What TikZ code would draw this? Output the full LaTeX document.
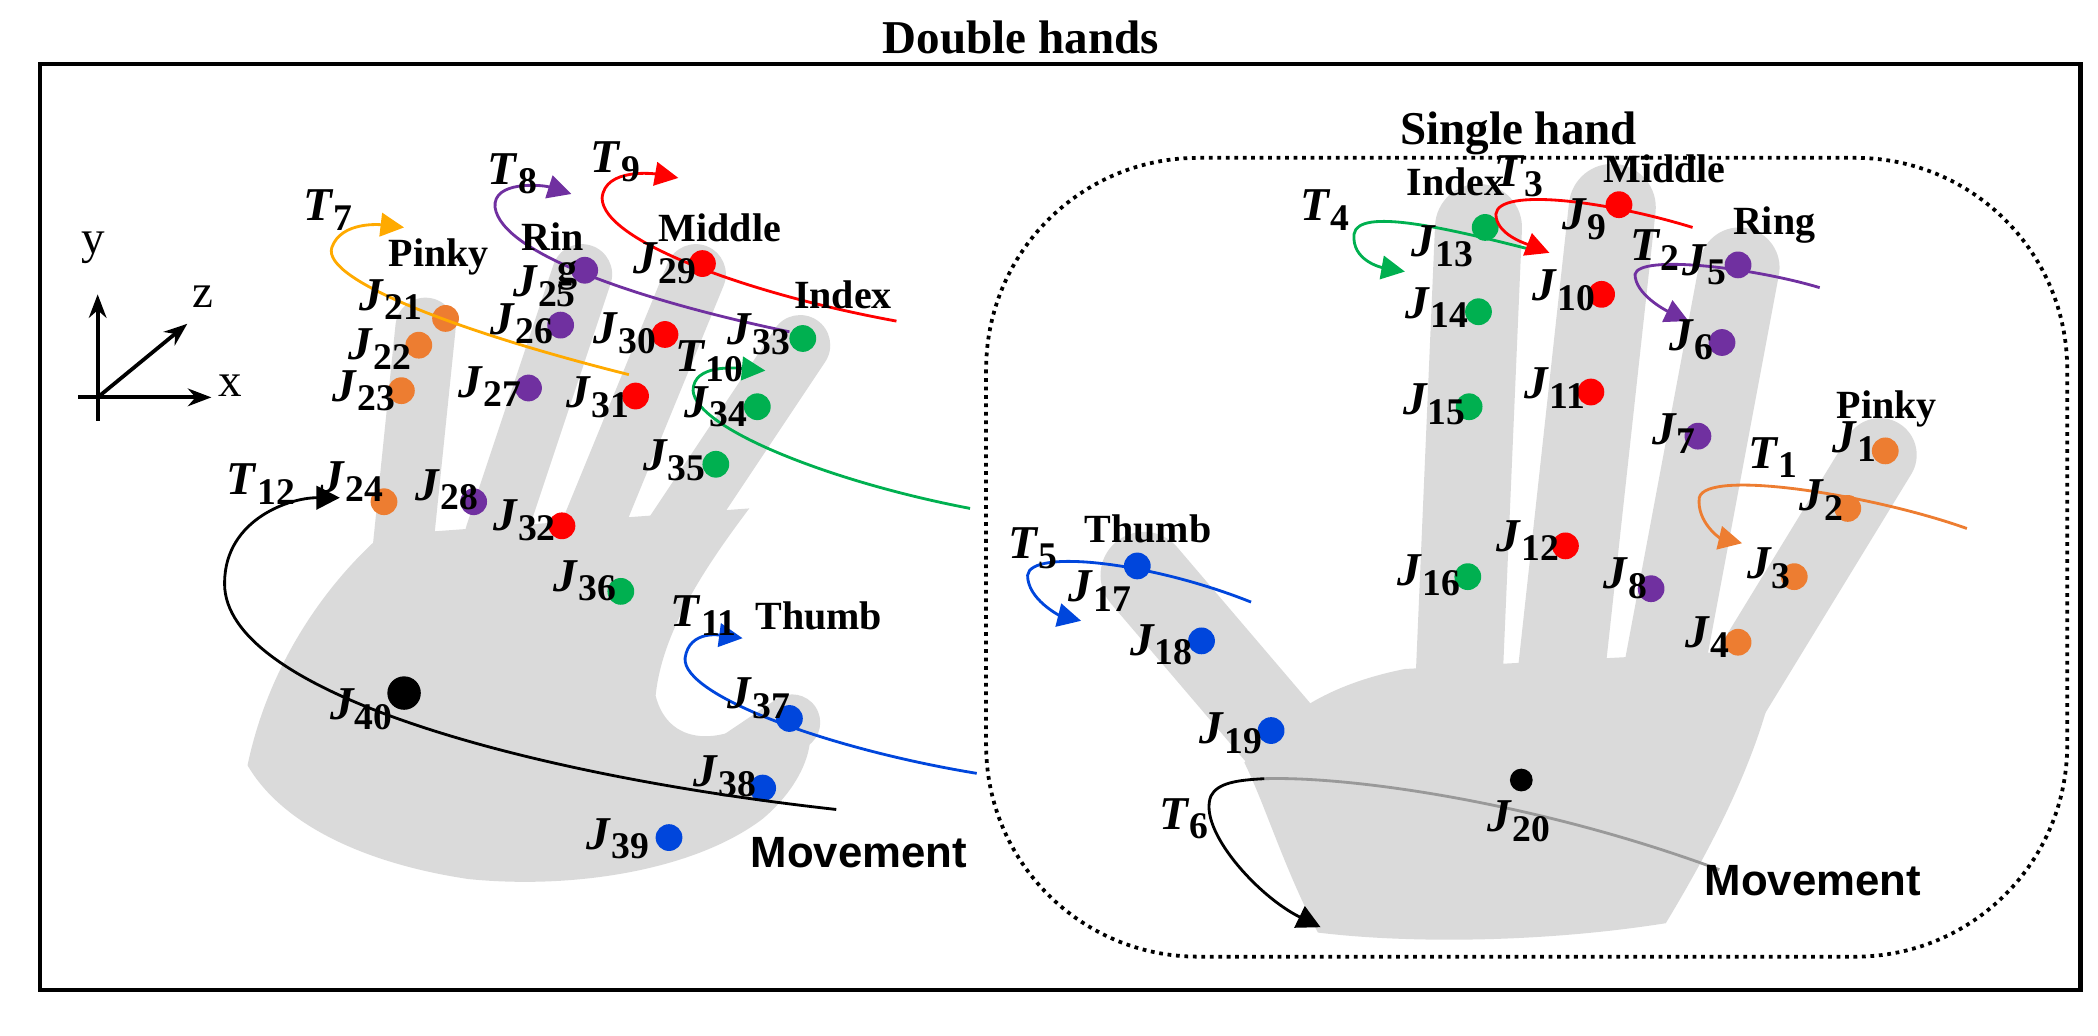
\documentclass[tikz,border=0pt]{standalone}
\usepackage{fontspec}
\setmainfont{Liberation Serif}
\newfontfamily\sansf{Liberation Sans}
\usetikzlibrary{arrows.meta}
\definecolor{hg}{RGB}{218,218,218}
\definecolor{jor}{RGB}{237,125,49}
\definecolor{jpu}{RGB}{112,48,160}
\definecolor{jre}{RGB}{255,0,0}
\definecolor{jgr}{RGB}{0,176,80}
\definecolor{jbl}{RGB}{0,70,220}
\definecolor{jye}{RGB}{255,170,0}
\newcommand{\JL}[1]{\textbf{\textit{J}}\raisebox{-0.45ex}{\bfseries\footnotesize #1}}
\newcommand{\TL}[1]{\textbf{\textit{T}}\raisebox{-0.45ex}{\bfseries\footnotesize #1}}
\begin{document}
\begin{tikzpicture}[x=0.01cm,y=-0.01cm,
 jt/.style={circle,inner sep=0pt,minimum size=0.2cm,fill=#1},
 lab/.style={font=\fontsize{8.5}{10}\selectfont\bfseries,inner sep=0pt},
 ttl/.style={font=\fontsize{10}{12}\selectfont\bfseries,inner sep=0pt},
 jl/.style={font=\fontsize{10}{12}\selectfont,inner sep=0pt},
 finger/.style={hg,line cap=round,line width=#1},
 rot/.style={#1,line width=0.6pt,-{Triangle[length=5pt,width=5pt]}},
 mv/.style={font=\sansf\fontsize{9.3}{11}\selectfont\bfseries,inner sep=0pt}]
\useasboundingbox (0,0) rectangle (1568,774);
\draw[line width=0.9pt] (30,48) rectangle (1555,740);
\node[ttl] (title) at (763,28) {Double hands};
\draw[densely dotted,line width=0.8pt,rounded corners=45] (737,118) rectangle (1545,715);
\node[ttl] (single) at (1135,100) {Single hand};
% axes
\coordinate (o) at (73,297);
\draw[line width=0.8pt,-{Stealth[length=5pt]}] (o) -- (73,220) coordinate (ya);
\draw[line width=0.8pt,-{Stealth[length=5pt]}] (o) -- (158,297) coordinate (xa);
\draw[line width=0.8pt,-{Stealth[length=5pt]}] (o) -- (140,242) coordinate (za);
\draw[line width=0.8pt] (o) -- (73,315) (o) -- (58,297);
\node[jl] (yl) at (70,185) {y};
\node[jl] (xl) at (172,288) {x};
\node[jl] (zl) at (152,222) {z};
% left hand
\fill[hg] (185,572) .. controls (200,500) and (240,440) .. (285,400) -- (560,380) .. controls (530,420) and (495,470) .. (490,520) .. controls (500,560) and (545,560) .. (588,522) .. controls (618,535) and (608,580) .. (570,612) .. controls (520,650) and (430,665) .. (350,657) .. controls (270,645) and (210,615) .. cycle;
\draw[finger=0.45cm] (300,420) -- (318,245);
\draw[finger=0.45cm] (370,400) -- (435,205);
\draw[finger=0.45cm] (440,400) -- (520,205);
\draw[finger=0.45cm] (490,420) -- (598,258);
\draw[finger=0.42cm] (540,575) -- (592,540);
% right hand
\fill[hg] (930,570) .. controls (960,530) and (1000,510) .. (1050,500) -- (1330,485) .. controls (1320,560) and (1275,640) .. (1245,690) .. controls (1150,705) and (1050,705) .. (985,697) .. controls (960,650) and (945,600) .. cycle;
\draw[finger=0.65cm] (1000,600) -- (855,430);
\draw[finger=0.65cm] (1090,520) -- (1105,170);
\draw[finger=0.65cm] (1165,520) -- (1205,155);
\draw[finger=0.6cm] (1240,520) -- (1300,200);
\draw[finger=0.55cm] (1295,520) -- (1405,340);
% left joints
\node[jt=jor] (J21) at (333,238) {};
\node[jt=jor] (J22) at (313,258) {};
\node[jt=jor] (J23) at (300,292) {};
\node[jt=jor] (J24) at (287,375) {};
\node[jt=jpu] (J25) at (437,202) {};
\node[jt=jpu] (J26) at (419,243) {};
\node[jt=jpu] (J27) at (395,290) {};
\node[jt=jpu] (J28) at (354,375) {};
\node[jt=jre] (J29) at (525,197) {};
\node[jt=jre] (J30) at (497,250) {};
\node[jt=jre] (J31) at (475,296) {};
\node[jt=jre] (J32) at (420,393) {};
\node[jt=jgr] (J33) at (600,253) {};
\node[jt=jgr] (J34) at (566,304) {};
\node[jt=jgr] (J35) at (535,347) {};
\node[jt=jgr] (J36) at (464,442) {};
\node[jt=jbl] (J37) at (590,537) {};
\node[jt=jbl] (J38) at (570,589) {};
\node[jt=jbl] (J39) at (500,626) {};
\node[jt=black,minimum size=0.25cm] (J40) at (302,518) {};
% right joints
\node[jt=jgr] (J13) at (1110,170) {};
\node[jt=jgr] (J14) at (1105,233) {};
\node[jt=jgr] (J15) at (1098,304) {};
\node[jt=jgr] (J16) at (1097,431) {};
\node[jt=jre] (J9) at (1210,153) {};
\node[jt=jre] (J10) at (1197,220) {};
\node[jt=jre] (J11) at (1189,293) {};
\node[jt=jre] (J12) at (1170,408) {};
\node[jt=jpu] (J5) at (1299,198) {};
\node[jt=jpu] (J6) at (1287,256) {};
\node[jt=jpu] (J7) at (1269,326) {};
\node[jt=jpu] (J8) at (1234,440) {};
\node[jt=jor] (J1) at (1409,337) {};
\node[jt=jor] (J2) at (1381,380) {};
\node[jt=jor] (J3) at (1341,431) {};
\node[jt=jor] (J4) at (1299,480) {};
\node[jt=jbl] (J17) at (850,423) {};
\node[jt=jbl] (J18) at (898,479) {};
\node[jt=jbl] (J19) at (950,546) {};
\node[jt=black,minimum size=0.17cm] (J20) at (1137,583) {};
% rotation arrows left
\draw[rot=jye] (470,280) .. controls (350,250) and (240,210) .. (248,185) .. controls (255,165) and (285,168) .. (302,170);
\draw[rot=jpu] (590,248) .. controls (480,225) and (375,190) .. (370,155) .. controls (368,135) and (405,138) .. (427,145);
\draw[rot=jre] (670,240) .. controls (560,220) and (450,180) .. (450,148) .. controls (452,125) and (490,130) .. (507,133);
\draw[rot=jgr] (725,380) .. controls (620,360) and (520,320) .. (518,292) .. controls (518,272) and (550,275) .. (572,277);
\draw[rot=jbl] (730,578) .. controls (620,560) and (510,520) .. (512,492) .. controls (515,470) and (540,475) .. (555,477);
\draw[rot=black] (625,605) .. controls (400,580) and (175,520) .. (168,440) .. controls (165,390) and (215,372) .. (254,372);
% rotation arrows right
\draw[rot=jgr] (1150,188) .. controls (1080,170) and (1015,155) .. (1012,175) .. controls (1010,195) and (1033,200) .. (1050,203);
\draw[rot=jre] (1265,170) .. controls (1200,150) and (1120,140) .. (1118,160) .. controls (1118,175) and (1140,182) .. (1158,189);
\draw[rot=jpu] (1360,215) .. controls (1310,200) and (1225,190) .. (1222,205) .. controls (1222,220) and (1245,232) .. (1262,240);
\draw[rot=jor] (1470,395) .. controls (1400,370) and (1275,350) .. (1270,372) .. controls (1268,390) and (1285,402) .. (1302,406);
\draw[rot=jbl] (935,450) .. controls (860,420) and (770,410) .. (768,430) .. controls (768,448) and (792,460) .. (808,464);
\draw[black!40,line width=0.6pt] (1285,650) .. controls (1150,600) and (1010,580) .. (945,582);
\draw[rot=black] (945,582) .. controls (925,583) and (910,585) .. (905,595) .. controls (895,620) and (940,670) .. (987,693);
% T labels
\node[jl] (T7) at (245,157) {\TL{7}};
\node[jl] (T8) at (383,130) {\TL{8}};
\node[jl] (T9) at (460,121) {\TL{9}};
\node[jl] (T10) at (530,270) {\TL{10}};
\node[jl] (T11) at (526,460) {\TL{11}};
\node[jl] (T12) at (195,362) {\TL{12}};
\node[jl] (T4) at (990,157) {\TL{4}};
\node[jl] (T3) at (1135,132) {\TL{3}};
\node[jl] (T2) at (1237,187) {\TL{2}};
\node[jl] (T1) at (1325,342) {\TL{1}};
\node[jl] (T5) at (772,410) {\TL{5}};
\node[jl] (T6) at (885,612) {\TL{6}};
% J labels left
\node[jl] (L21) at (292,224) {\JL{21}};
\node[jl] (L22) at (284,261) {\JL{22}};
\node[jl] (L23) at (272,292) {\JL{23}};
\node[jl] (L24) at (263,360) {\JL{24}};
\node[jl] (L25) at (407,214) {\JL{25}};
\node[jl] (L26) at (390,242) {\JL{26}};
\node[jl] (L27) at (366,289) {\JL{27}};
\node[jl] (L28) at (334,366) {\JL{28}};
\node[jl] (L29) at (497,197) {\JL{29}};
\node[jl] (L30) at (467,249) {\JL{30}};
\node[jl] (L31) at (447,297) {\JL{31}};
\node[jl] (L32) at (392,389) {\JL{32}};
\node[jl] (L33) at (567,250) {\JL{33}};
\node[jl] (L34) at (535,304) {\JL{34}};
\node[jl] (L35) at (504,344) {\JL{35}};
\node[jl] (L36) at (437,434) {\JL{36}};
\node[jl] (L37) at (567,522) {\JL{37}};
\node[jl] (L38) at (542,580) {\JL{38}};
\node[jl] (L39) at (462,627) {\JL{39}};
\node[jl] (L40) at (270,530) {\JL{40}};
% J labels right
\node[jl] (L13) at (1078,184) {\JL{13}};
\node[jl] (L14) at (1074,230) {\JL{14}};
\node[jl] (L15) at (1072,302) {\JL{15}};
\node[jl] (L16) at (1068,430) {\JL{16}};
\node[jl] (L9) at (1184,164) {\JL{9}};
\node[jl] (L10) at (1169,217) {\JL{10}};
\node[jl] (L11) at (1162,290) {\JL{11}};
\node[jl] (L12) at (1142,404) {\JL{12}};
\node[jl] (L5) at (1274,198) {\JL{5}};
\node[jl] (L6) at (1264,254) {\JL{6}};
\node[jl] (L7) at (1251,324) {\JL{7}};
\node[jl] (L8) at (1215,432) {\JL{8}};
\node[jl] (L1) at (1386,330) {\JL{1}};
\node[jl] (L2) at (1361,374) {\JL{2}};
\node[jl] (L3) at (1322,425) {\JL{3}};
\node[jl] (L4) at (1276,476) {\JL{4}};
\node[jl] (L17) at (822,442) {\JL{17}};
\node[jl] (L18) at (868,482) {\JL{18}};
\node[jl] (L19) at (920,548) {\JL{19}};
\node[jl] (L20) at (1135,614) {\JL{20}};
% finger names
\node[lab] (pinkyL) at (328,192) {Pinky};
\node[lab] (rinL) at (413,177) {Rin};
\node[lab] (gL) at (424,206) {g};
\node[lab] (middleL) at (538,170) {Middle};
\node[lab] (indexL) at (630,220) {Index};
\node[lab] (thumbL) at (612,460) {Thumb};
\node[mv] (movL) at (642,637) {Movement};
\node[lab] (indexR) at (1088,136) {Index};
\node[lab] (middleR) at (1244,126) {Middle};
\node[lab] (ringR) at (1326,168) {Ring};
\node[lab] (pinkyR) at (1410,306) {Pinky};
\node[lab] (thumbR) at (858,395) {Thumb};
\node[mv] (movR) at (1355,658) {Movement};
\end{tikzpicture}
\end{document}
